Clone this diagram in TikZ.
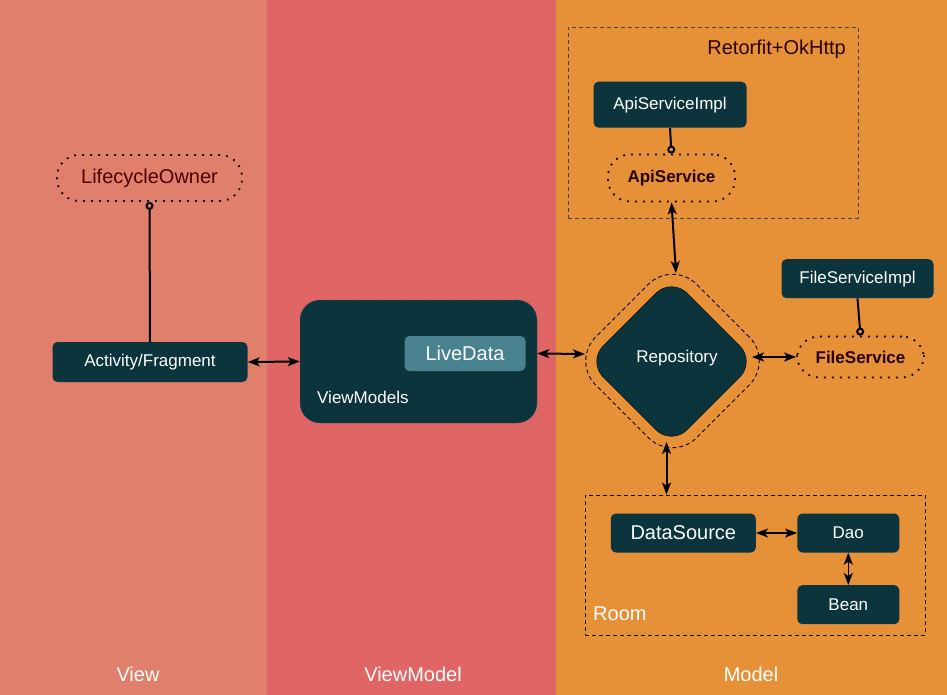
\documentclass[tikz,border=0pt]{standalone}
\usepackage{fontspec}
\setmainfont{Liberation Sans}
\usetikzlibrary{arrows.meta, shapes.geometric}

\definecolor{viewbg}{RGB}{224,127,107}
\definecolor{vmbg}{RGB}{224,102,102}
\definecolor{modelbg}{RGB}{230,145,56}
\definecolor{petrol}{RGB}{12,52,61}
\definecolor{livebox}{RGB}{72,130,143}
\definecolor{darktext}{RGB}{40,0,0}
\definecolor{ownertext}{RGB}{76,0,0}

\newcommand{\fsmall}{\fontsize{17}{20}\selectfont}
\newcommand{\fbig}{\fontsize{20}{24}\selectfont}

\begin{document}
\begin{tikzpicture}[x=1pt, y=-1pt, >={Stealth[length=12pt,width=9pt,inset=3pt]},
  boxnode/.style={fill=petrol, rounded corners=5pt, text=white, font=\fsmall, inner sep=0pt},
  iface/.style={draw=black, line width=1.8pt, dash pattern=on 1.8pt off 6.2pt, rounded corners=22pt, inner sep=0pt, font=\fsmall\bfseries, text=darktext},
  link/.style={black, line width=2pt, <->},
  impl/.style={black, line width=2pt, -{Circle[open,length=8pt,width=8pt]}},
  group/.style={draw, line width=0.9pt, dash pattern=on 4pt off 3pt}]

% columns
\fill[viewbg] (0,0) rectangle (267,695);
\fill[vmbg] (267,0) rectangle (556,695);
\fill[modelbg] (556,0) rectangle (947,695);
\useasboundingbox (0,0) rectangle (947,695);

% view
\node[iface, font=\fbig, text=ownertext, minimum width=185pt, minimum height=46pt] (owner) at (149.5,178) {LifecycleOwner};
\node[boxnode, minimum width=195pt, minimum height=40pt] (act) at (150,362) {Activity/Fragment};
\draw[impl] (act.north) -- (owner.south);

% viewmodel
\node[boxnode, rounded corners=20pt, draw={rgb,255:red,45;green,92;blue,102}, dash pattern=on 4pt off 2pt, minimum width=237pt, minimum height=123pt] (vm) at (418.5,361.5) {};
\node[boxnode, fill=livebox, font=\fbig, minimum width=121pt, minimum height=35pt] (live) at (465,353.5) {LiveData};
\node[text=white, font=\fsmall, anchor=west, inner sep=0pt] (vmname) at (317,397) {ViewModels};
\draw[link] (act.east) -- (vm.west);

% repository
\node[diamond, draw=black, fill=petrol, rounded corners=22pt, minimum width=168pt, minimum height=168pt, inner sep=0pt] (repo) at (671.5,361.5) {};
\node[text=white, font=\fsmall, inner sep=0pt] (reponame) at (677,358) {Repository};
\node[diamond, draw=black, line width=0.9pt, dash pattern=on 4pt off 3pt, rounded corners=34pt, minimum width=202pt, minimum height=202pt, inner sep=0pt] (repoout) at (672.5,361) {};
\coordinate (repoL) at (585,354);
\coordinate (repoR) at (752,357);
\coordinate (repoT) at (676,273);
\coordinate (repoB) at (666.5,442);
\draw[link] (live.east -| vm.east) -- (repoL);

% network
\node[group, draw={rgb,255:red,68;green,68;blue,68}, minimum width=290pt, minimum height=191pt] (net) at (713,122.5) {};
\node[anchor=east, font=\fbig, text=darktext, inner sep=0pt] (netname) at (846,49) {Retorfit+OkHttp};
\node[boxnode, minimum width=153pt, minimum height=46pt] (apiimpl) at (670,104.7) {ApiServiceImpl};
\node[iface, minimum width=127pt, minimum height=47pt] (api) at (671.5,178) {ApiService};
\draw[impl] (apiimpl.south) -- (api.north);
\draw[link] (api.south) -- (repoT);

% files
\node[boxnode, minimum width=152pt, minimum height=39pt] (fileimpl) at (857.5,278.7) {FileServiceImpl};
\node[iface, minimum width=127pt, minimum height=41pt] (file) at (860.5,357) {FileService};
\draw[impl] (fileimpl.south) -- (file.north);
\draw[link] (repoR) -- (file.west);

% room
\node[group, minimum width=340pt, minimum height=140pt] (room) at (755,565) {};
\node[anchor=west, font=\fbig, text=white, inner sep=0pt] (roomname) at (593,614) {Room};
\node[boxnode, font=\fbig, minimum width=145pt, minimum height=39pt] (src) at (683.3,533) {DataSource};
\node[boxnode, minimum width=102pt, minimum height=39pt] (dao) at (848.3,533) {Dao};
\node[boxnode, minimum width=102pt, minimum height=39pt] (bean) at (848.3,604.7) {Bean};
\draw[link] (repoB) -- (repoB |- room.north);
\draw[link, line width=1.5pt] (src.east) -- (dao.west);
\draw[link, line width=1.5pt] (dao.south) -- (bean.north);

% layer names
\node[text=white, font=\fbig] (viewname) at (138,674) {View};
\node[text=white, font=\fbig] (vmlayer) at (413,674) {ViewModel};
\node[text=white, font=\fbig] (modelname) at (751,674) {Model};

\end{tikzpicture}
\end{document}
